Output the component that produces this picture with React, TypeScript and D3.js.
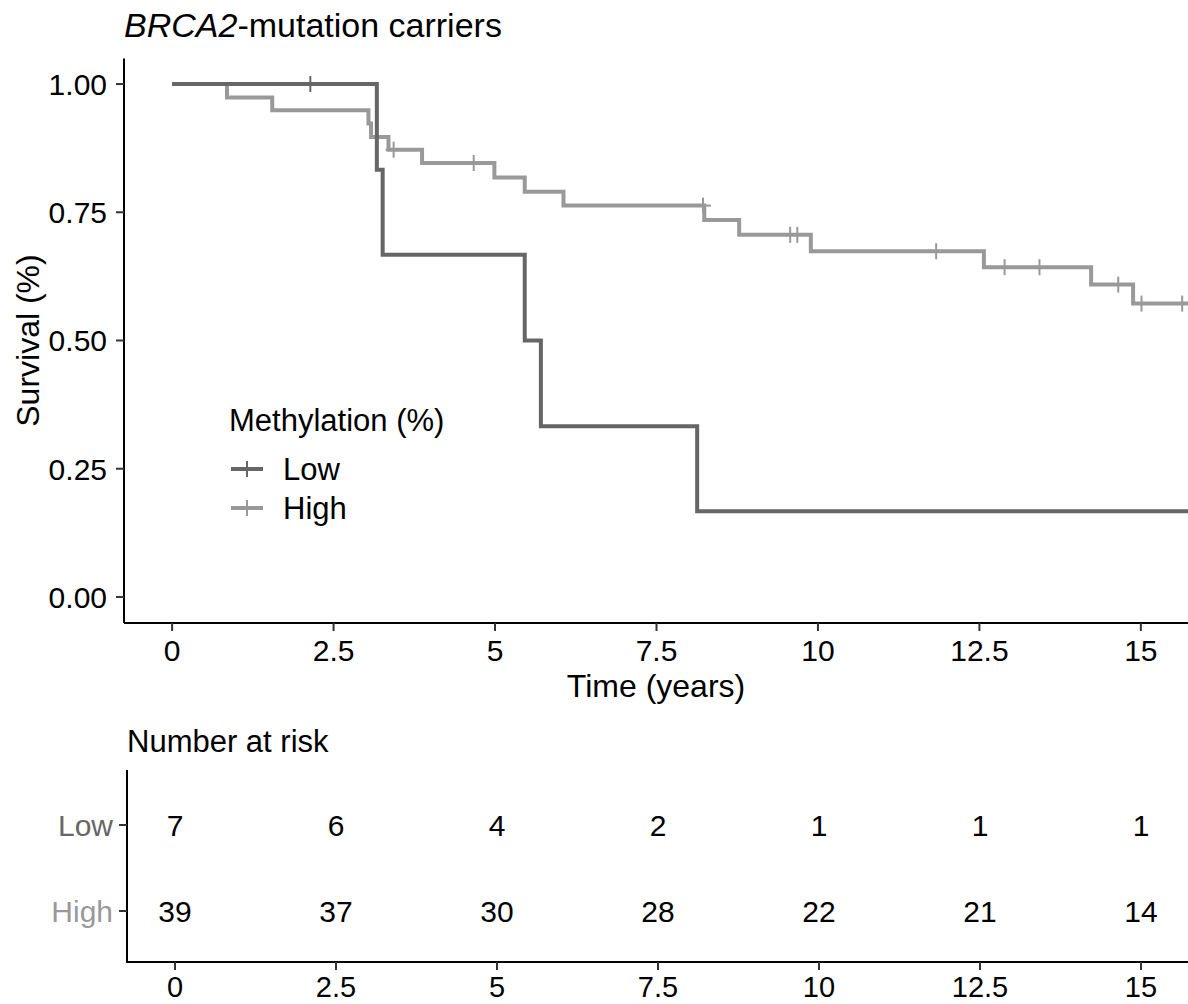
import React from 'react';
import * as d3 from 'd3';

// Kaplan-Meier steps (time in years, survival)
const lowTimes = [0, 3.17, 3.26, 5.46, 5.71, 8.13];
const lowSurv = [1, 0.833, 0.667, 0.5, 0.333, 0.167];
const lowCensor = [2.14];

const highTimes = [0, 0.85, 1.55, 3.04, 3.08, 3.35, 3.87, 4.99, 5.46, 6.06, 8.24, 8.78, 9.89, 12.57, 14.23, 14.88];
const highSurv = [1, 0.974, 0.949, 0.923, 0.897, 0.872, 0.846, 0.818, 0.79, 0.763, 0.735, 0.706, 0.674, 0.643, 0.609, 0.572];
const highCensor = [3.43, 4.67, 8.22, 9.57, 9.68, 11.83, 12.89, 13.43, 14.65, 15.01, 15.64];

const xTicks = [0, 2.5, 5, 7.5, 10, 12.5, 15];
const yTicks = [0, 0.25, 0.5, 0.75, 1];
const groups = ['Low', 'High'];
const lowRisk = [7, 6, 4, 2, 1, 1, 1];
const highRisk = [39, 37, 30, 28, 22, 21, 14];

const colorLow = '#666666';
const colorHigh = '#999999';
const font = '"Liberation Sans", Arial, sans-serif';

const W = 1188;
const H = 1004;
const xDomain: [number, number] = [-0.745, 15.73];

const x = d3.scaleLinear().domain(xDomain).range([124, 1188]);
const y = d3.scaleLinear().domain([-0.05, 1.05]).range([622.6, 58.4]);
const xr = d3.scaleLinear().domain(xDomain).range([127, 1188]);
const yr = d3.scalePoint<string>().domain(groups).range([825, 911]);

function survAt(times: number[], surv: number[], t: number) {
  const i = d3.bisectRight(times, t) - 1;
  return surv[Math.max(0, i)];
}

function stepPath(times: number[], surv: number[]) {
  const pts: [number, number][] = times.map((t, i) => [t, surv[i]]);
  pts.push([xDomain[1], surv[surv.length - 1]]);
  return d3
    .line<[number, number]>()
    .x((d) => x(d[0]))
    .y((d) => y(d[1]))
    .curve(d3.curveStepAfter)(pts) as string;
}

const fmtY = d3.format('.2f');
const fmtX = (v: number) => String(v);

function Censors({ times, surv, marks, color }: any) {
  return (
    <g stroke={color} strokeWidth={2}>
      {marks.map((t: number, i: number) => {
        const cx = x(t);
        const cy = y(survAt(times, surv, t));
        return (
          <g key={i}>
            <line x1={cx} x2={cx} y1={cy - 8} y2={cy + 8} />
            <line x1={cx - 8} x2={cx + 8} y1={cy} y2={cy} />
          </g>
        );
      })}
    </g>
  );
}

export default function App() {
  return (
    <svg
      width={W}
      height={H}
      style={{ position: 'absolute', left: 0, top: 0, background: '#fff' }}
      fontFamily={font}
    >
      {/* title */}
      <text x={124} y={37} fontSize={34}>
        <tspan fontStyle="italic">BRCA2</tspan>-mutation carriers
      </text>

      {/* y axis */}
      <line x1={124} x2={124} y1={58.4} y2={623} stroke="#000" strokeWidth={2} />
      {yTicks.map((v) => (
        <g key={v} transform={`translate(0,${y(v)})`}>
          <line x1={116} x2={124} stroke="#333" strokeWidth={2} />
          <text x={107} dy="0.36em" textAnchor="end" fontSize={30}>
            {fmtY(v)}
          </text>
        </g>
      ))}
      <text
        transform={`translate(39,${(y(0) + y(1)) / 2}) rotate(-90)`}
        textAnchor="middle"
        fontSize={32}
      >
        Survival (%)
      </text>

      {/* x axis */}
      <line x1={124} x2={1188} y1={623} y2={623} stroke="#000" strokeWidth={2} />
      {xTicks.map((v) => (
        <g key={v} transform={`translate(${x(v)},0)`}>
          <line y1={623} y2={631} stroke="#333" strokeWidth={2} />
          <text y={661} textAnchor="middle" fontSize={30}>
            {fmtX(v)}
          </text>
        </g>
      ))}
      <text x={(124 + 1188) / 2} y={697} textAnchor="middle" fontSize={32}>
        Time (years)
      </text>

      {/* curves */}
      <path d={stepPath(highTimes, highSurv)} fill="none" stroke={colorHigh} strokeWidth={4} />
      <path d={stepPath(lowTimes, lowSurv)} fill="none" stroke={colorLow} strokeWidth={4} />
      <Censors times={highTimes} surv={highSurv} marks={highCensor} color={colorHigh} />
      <Censors times={lowTimes} surv={lowSurv} marks={lowCensor} color={colorLow} />

      {/* legend */}
      <text x={229} y={431} fontSize={31}>
        Methylation (%)
      </text>
      {groups.map((g, i) => {
        const cy = 469 + i * 39;
        const c = g === 'Low' ? colorLow : colorHigh;
        return (
          <g key={g}>
            <line x1={231} x2={263} y1={cy} y2={cy} stroke={c} strokeWidth={4} />
            <line x1={247} x2={247} y1={cy - 8} y2={cy + 8} stroke={c} strokeWidth={2} />
            <text x={283} y={cy} dy="0.36em" fontSize={31}>
              {g}
            </text>
          </g>
        );
      })}

      {/* risk table */}
      <text x={127} y={752} fontSize={31}>
        Number at risk
      </text>
      <line x1={127} x2={127} y1={770} y2={963} stroke="#000" strokeWidth={2} />
      <line x1={127} x2={1188} y1={962} y2={962} stroke="#000" strokeWidth={2} />
      {groups.map((g) => {
        const cy = yr(g) as number;
        const vals = g === 'Low' ? lowRisk : highRisk;
        return (
          <g key={g}>
            <line x1={119} x2={127} y1={cy} y2={cy} stroke="#333" strokeWidth={2} />
            <text x={113} y={cy} dy="0.36em" textAnchor="end" fontSize={30} fill={g === 'Low' ? colorLow : colorHigh}>
              {g}
            </text>
            {xTicks.map((t, i) => (
              <text key={t} x={xr(t)} y={cy} dy="0.36em" textAnchor="middle" fontSize={30}>
                {vals[i]}
              </text>
            ))}
          </g>
        );
      })}
      {xTicks.map((v) => (
        <g key={v} transform={`translate(${xr(v)},0)`}>
          <line y1={962} y2={970} stroke="#333" strokeWidth={2} />
          <text y={997} textAnchor="middle" fontSize={29}>
            {fmtX(v)}
          </text>
        </g>
      ))}
    </svg>
  );
}
